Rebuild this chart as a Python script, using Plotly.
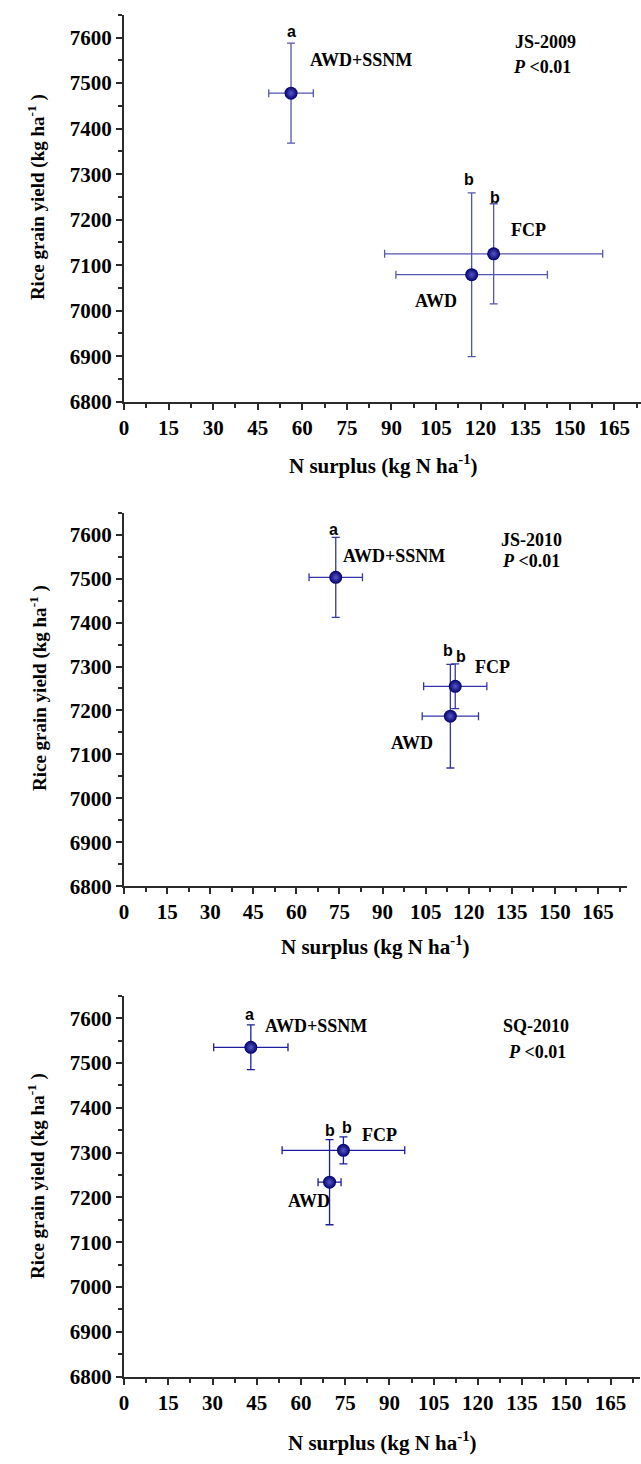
import plotly.graph_objects as go

# ---- data -------------------------------------------------------------
treatments = ["AWD+SSNM", "AWD", "FCP"]
sig_letters = ["a", "b", "b"]

# JS-2009
js2009_n = [56.2, 117.0, 124.4]
js2009_n_sd = [7.5, 25.5, 36.7]
js2009_yield = [7478, 7079, 7125]
js2009_yield_sd = [110, 180, 110]

# JS-2010
js2010_n = [73.7, 113.6, 115.3]
js2010_n_sd = [9.3, 9.8, 11.0]
js2010_yield = [7503, 7187, 7255]
js2010_yield_sd = [91, 118, 51]

# SQ-2010
sq2010_n = [43.0, 69.7, 74.4]
sq2010_n_sd = [12.6, 3.9, 20.8]
sq2010_yield = [7535, 7234, 7305]
sq2010_yield_sd = [50, 95, 30]

site_labels = ["JS-2009", "JS-2010", "SQ-2010"]
p_label = "<i>P</i> &lt;0.01"

x_ticks = list(range(0, 166, 15))
y_ticks = list(range(6800, 7601, 100))

# ---- layout helpers ---------------------------------------------------
W, H = 641, 1464
SERIF = "Liberation Serif"
SANS = "Liberation Sans"
AXIS_COL = "#2b2b2b"
MARK_COL = "#000070"


def px_x(p):
    return p / W


def px_y(p):
    return 1 - p / H


panels = [
    dict(n=js2009_n, nsd=js2009_n_sd, y=js2009_yield, ysd=js2009_yield_sd,
         xdom=(120, 641), xmax=174, ydom=(15, 405), bar="#5555b0",
         # treatment-name label positions (data units)
         names=[(79.8, 7551), (105.0, 7022), (136.0, 7178)],
         site=(141.8, 7590), p=(140.7, 7536),
         # letter offsets from the error-bar tip (x data shift, y pixel shift)
         letters=[(0, 12), (-0.8, 13), (0.6, 6)],
         ytitle=(32, 199), xtitle=(381, 468)),
    dict(n=js2010_n, nsd=js2010_n_sd, y=js2010_yield, ysd=js2010_yield_sd,
         xdom=(120, 626.6), xmax=175, ydom=(517, 893.5), bar="#3535a8",
         names=[(94.1, 7551), (100.1, 7125), (128.4, 7298)],
         site=(141.8, 7587), p=(141.8, 7541),
         letters=[(-0.7, 8), (-0.7, 14), (2.0, 7)],
         ytitle=(34, 694), xtitle=(373, 953)),
    dict(n=sq2010_n, nsd=sq2010_n_sd, y=sq2010_yield, ysd=sq2010_yield_sd,
         xdom=(120, 640), xmax=175, ydom=(1004, 1388), bar="#1c1c9c",
         names=[(65.2, 7582), (62.6, 7191), (86.8, 7340)],
         site=(139.6, 7582), p=(140.2, 7525),
         letters=[(-0.4, 10), (0.1, 9), (1.1, 9)],
         ytitle=(32, 1186), xtitle=(380, 1453)),
]

fig = go.Figure()
annotations = []

for i, pn in enumerate(panels, start=1):
    xa = "x" if i == 1 else f"x{i}"
    ya = "y" if i == 1 else f"y{i}"

    fig.add_trace(go.Scatter(
        x=pn["n"], y=pn["y"], mode="markers", xaxis=xa, yaxis=ya,
        text=treatments, showlegend=False, hoverinfo="text+x+y",
        marker=dict(size=13, color=MARK_COL,
                    gradient=dict(type="radial", color="#5656c4"),
                    line=dict(width=0)),
        error_x=dict(type="data", array=pn["nsd"], visible=True,
                     color=pn["bar"], thickness=1.3, width=4),
        error_y=dict(type="data", array=pn["ysd"], visible=True,
                     color=pn["bar"], thickness=1.3, width=4),
    ))

    axis_common = dict(
        showline=True, linecolor=AXIS_COL, linewidth=2,
        ticks="outside", ticklen=6, tickwidth=1.5, tickcolor=AXIS_COL,
        showgrid=False, zeroline=False, mirror=False,
        tickfont=dict(family=SERIF, size=21, color="black", weight="bold"),
    )

    xaxis = dict(axis_common)
    xaxis.update(
        domain=[px_x(pn["xdom"][0]), px_x(pn["xdom"][1])],
        range=[0, pn["xmax"]], tickmode="array", tickvals=x_ticks,
        anchor=ya,
        minor=dict(dtick=7.5, tick0=0, ticks="outside", ticklen=4,
                   tickwidth=1.5, tickcolor=AXIS_COL),
    )
    yaxis = dict(axis_common)
    yaxis.update(
        domain=[px_y(pn["ydom"][1]), px_y(pn["ydom"][0])],
        range=[6800, 7650], tickmode="array", tickvals=y_ticks,
        anchor=xa,
        minor=dict(dtick=50, tick0=6800, ticks="outside", ticklen=4,
                   tickwidth=1.5, tickcolor=AXIS_COL),
    )
    fig.update_layout(**{("xaxis" if i == 1 else f"xaxis{i}"): xaxis,
                         ("yaxis" if i == 1 else f"yaxis{i}"): yaxis})

    # significance letters above each vertical error bar
    for xv, yv, sd, letter, (dx, dy) in zip(pn["n"], pn["y"], pn["ysd"],
                                           sig_letters, pn["letters"]):
        annotations.append(dict(
            x=xv + dx, y=yv + sd, xref=xa, yref=ya, yshift=dy,
            text=letter, showarrow=False, xanchor="center", yanchor="middle",
            font=dict(family=SANS, size=16, color="black", weight="bold")))

    # treatment names
    for name, (lx, ly) in zip(treatments, pn["names"]):
        annotations.append(dict(
            x=lx, y=ly, xref=xa, yref=ya, text=name, showarrow=False,
            xanchor="center", yanchor="middle",
            font=dict(family=SERIF, size=18, color="black", weight="bold")))

    # site and significance level
    annotations.append(dict(
        x=pn["site"][0], y=pn["site"][1], xref=xa, yref=ya,
        text=site_labels[i - 1], showarrow=False, xanchor="center",
        yanchor="middle",
        font=dict(family=SERIF, size=18, color="black", weight="bold")))
    annotations.append(dict(
        x=pn["p"][0], y=pn["p"][1], xref=xa, yref=ya, text=p_label,
        showarrow=False, xanchor="center", yanchor="middle",
        font=dict(family=SERIF, size=18, color="black", weight="bold")))

    # axis titles
    annotations.append(dict(
        x=px_x(pn["ytitle"][0]), y=px_y(pn["ytitle"][1]), xref="paper",
        yref="paper", text="Rice grain yield (kg ha<sup>-1</sup> )",
        textangle=-90, showarrow=False, xanchor="center", yanchor="middle",
        font=dict(family=SERIF, size=19, color="black", weight="bold")))
    annotations.append(dict(
        x=px_x(pn["xtitle"][0]), y=px_y(pn["xtitle"][1]), xref="paper",
        yref="paper", text="N surplus (kg N ha<sup>-1</sup>)",
        showarrow=False, xanchor="center", yanchor="middle",
        font=dict(family=SERIF, size=21, color="black", weight="bold")))

fig.update_layout(
    width=W, height=H, margin=dict(l=0, r=0, t=0, b=0),
    paper_bgcolor="white", plot_bgcolor="white",
    annotations=annotations, showlegend=False,
)

fig.write_html("out.html")
